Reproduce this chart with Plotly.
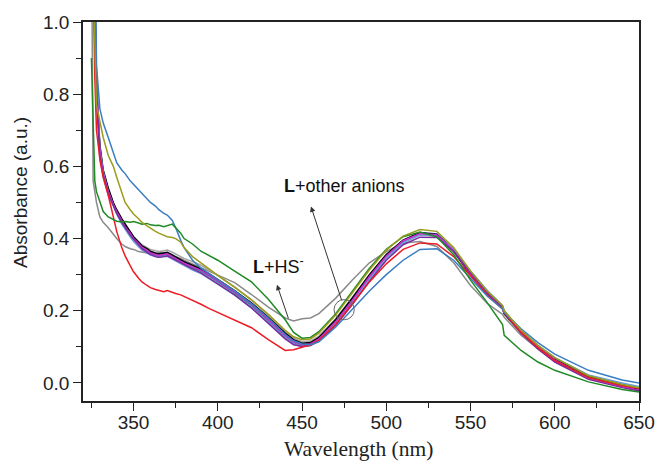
import plotly.graph_objects as go

# Wavelength grid (nm)
wavelength = [325, 326, 327, 328, 330, 332, 335, 338, 340, 343, 345, 348, 350, 353, 355,
              358, 360, 363, 365, 368, 370, 373, 375, 378, 380, 385, 390, 395, 400, 410,
              420, 430, 440, 445, 450, 455, 460, 470, 480, 490, 500, 510, 520, 530, 540,
              550, 560, 569, 570, 580, 590, 600, 620, 640, 650]

abs_hs = [1.3, 0.56, 0.53, 0.5, 0.46, 0.445, 0.43, 0.41, 0.4, 0.385, 0.378, 0.372, 0.37, 0.364, 0.362,
          0.36, 0.36, 0.358, 0.36, 0.362, 0.358, 0.352, 0.35, 0.345, 0.34, 0.33, 0.32, 0.31, 0.3, 0.278,
          0.245, 0.21, 0.18, 0.172, 0.178, 0.18, 0.192, 0.235, 0.286, 0.333, 0.364, 0.388, 0.392, 0.378, 0.333,
          0.27, 0.22, 0.19, 0.182, 0.132, 0.094, 0.06, 0.014, -0.009, -0.017]

abs_lightgray = [1.5, 1.25, 0.98, 0.78, 0.62, 0.57, 0.52, 0.49, 0.47, 0.45, 0.435, 0.418, 0.405, 0.392, 0.383,
                 0.375, 0.37, 0.366, 0.364, 0.366, 0.368, 0.362, 0.357, 0.35, 0.345, 0.336, 0.326, 0.313, 0.298, 0.266,
                 0.23, 0.188, 0.142, 0.124, 0.114, 0.116, 0.13, 0.178, 0.238, 0.3, 0.354, 0.393, 0.412, 0.406, 0.362,
                 0.3, 0.246, 0.206, 0.19, 0.138, 0.098, 0.064, 0.016, -0.008, -0.018]

abs_darkcyan = [1.65, 1.32, 1.02, 0.81, 0.645, 0.58, 0.53, 0.494, 0.472, 0.448, 0.433, 0.414, 0.4, 0.386, 0.375,
                0.366, 0.359, 0.354, 0.351, 0.354, 0.356, 0.349, 0.343, 0.336, 0.33, 0.319, 0.309, 0.295, 0.28, 0.249,
                0.214, 0.172, 0.128, 0.11, 0.104, 0.106, 0.12, 0.168, 0.228, 0.292, 0.35, 0.392, 0.415, 0.412, 0.368,
                0.304, 0.25, 0.211, 0.197, 0.144, 0.102, 0.067, 0.019, -0.004, -0.014]

abs_navy = [1.75, 1.38, 1.08, 0.83, 0.65, 0.585, 0.535, 0.497, 0.476, 0.452, 0.436, 0.418, 0.402, 0.388, 0.378,
            0.37, 0.362, 0.358, 0.356, 0.358, 0.36, 0.352, 0.347, 0.34, 0.334, 0.323, 0.313, 0.299, 0.284, 0.253,
            0.219, 0.178, 0.134, 0.116, 0.107, 0.109, 0.123, 0.172, 0.232, 0.297, 0.354, 0.395, 0.417, 0.413, 0.37,
            0.305, 0.25, 0.21, 0.196, 0.143, 0.101, 0.066, 0.017, -0.007, -0.017]

abs_black = [1.7, 1.35, 1.05, 0.82, 0.66, 0.59, 0.54, 0.5, 0.48, 0.455, 0.44, 0.42, 0.405, 0.39, 0.38,
             0.372, 0.365, 0.36, 0.358, 0.36, 0.362, 0.355, 0.35, 0.342, 0.336, 0.326, 0.316, 0.302, 0.287, 0.256,
             0.222, 0.182, 0.138, 0.12, 0.11, 0.112, 0.126, 0.176, 0.236, 0.3, 0.356, 0.396, 0.416, 0.41, 0.365,
             0.3, 0.246, 0.207, 0.192, 0.14, 0.1, 0.066, 0.018, -0.006, -0.016]

abs_lightblue = [1.9, 1.5, 1.15, 0.86, 0.65, 0.585, 0.53, 0.49, 0.468, 0.44, 0.425, 0.405, 0.392, 0.378, 0.368,
                 0.36, 0.354, 0.35, 0.348, 0.35, 0.351, 0.343, 0.338, 0.33, 0.324, 0.313, 0.303, 0.289, 0.274, 0.243,
                 0.208, 0.167, 0.125, 0.108, 0.102, 0.104, 0.118, 0.165, 0.224, 0.288, 0.345, 0.388, 0.41, 0.408, 0.37,
                 0.31, 0.256, 0.215, 0.2, 0.146, 0.104, 0.07, 0.022, 0.0, -0.01]

abs_magenta = [1.8, 1.4, 1.1, 0.84, 0.64, 0.58, 0.53, 0.495, 0.475, 0.45, 0.432, 0.415, 0.4, 0.386, 0.376,
               0.368, 0.36, 0.356, 0.354, 0.356, 0.358, 0.35, 0.344, 0.337, 0.332, 0.322, 0.312, 0.298, 0.283, 0.252,
               0.218, 0.176, 0.132, 0.114, 0.106, 0.108, 0.122, 0.17, 0.23, 0.295, 0.352, 0.394, 0.414, 0.41, 0.366,
               0.302, 0.248, 0.209, 0.195, 0.142, 0.1, 0.064, 0.014, -0.01, -0.02]

abs_purple = [1.6, 1.3, 1.0, 0.8, 0.63, 0.575, 0.525, 0.49, 0.47, 0.445, 0.43, 0.41, 0.398, 0.383, 0.372,
              0.362, 0.356, 0.35, 0.348, 0.35, 0.352, 0.345, 0.34, 0.332, 0.327, 0.316, 0.305, 0.29, 0.275, 0.244,
              0.208, 0.165, 0.122, 0.106, 0.101, 0.104, 0.116, 0.16, 0.218, 0.282, 0.34, 0.383, 0.404, 0.403, 0.365,
              0.305, 0.25, 0.21, 0.195, 0.138, 0.094, 0.058, 0.01, -0.013, -0.022]

abs_red = [1.4, 1.1, 0.85, 0.7, 0.62, 0.57, 0.52, 0.46, 0.42, 0.375, 0.352, 0.325, 0.308, 0.29, 0.28,
           0.27, 0.264, 0.259, 0.256, 0.253, 0.256, 0.25, 0.248, 0.244, 0.24, 0.23, 0.218, 0.206, 0.195, 0.175,
           0.153, 0.12, 0.09, 0.092, 0.1, 0.106, 0.118, 0.162, 0.22, 0.28, 0.33, 0.37, 0.388, 0.385, 0.35,
           0.295, 0.243, 0.205, 0.195, 0.14, 0.098, 0.062, 0.015, -0.008, -0.015]

abs_blue = [2.0, 1.6, 1.2, 0.88, 0.76, 0.72, 0.68, 0.64, 0.61, 0.59, 0.58, 0.56, 0.55, 0.535, 0.525,
            0.51, 0.5, 0.49, 0.48, 0.47, 0.465, 0.45, 0.43, 0.395, 0.375, 0.34, 0.318, 0.302, 0.286, 0.255,
            0.22, 0.18, 0.135, 0.117, 0.108, 0.106, 0.114, 0.155, 0.205, 0.255, 0.3, 0.34, 0.37, 0.372, 0.34,
            0.29, 0.24, 0.205, 0.195, 0.15, 0.112, 0.08, 0.035, 0.008, 0.0]

abs_green = [0.9, 0.7, 0.56, 0.53, 0.5, 0.475, 0.46, 0.452, 0.448, 0.446, 0.447, 0.445, 0.447, 0.443, 0.44,
             0.442, 0.438, 0.436, 0.437, 0.433, 0.435, 0.44, 0.43, 0.415, 0.4, 0.385, 0.365, 0.352, 0.34, 0.31,
             0.28, 0.232, 0.175, 0.14, 0.124, 0.126, 0.142, 0.192, 0.256, 0.318, 0.37, 0.405, 0.418, 0.405, 0.355,
             0.285, 0.222, 0.162, 0.132, 0.09, 0.058, 0.035, 0.003, -0.018, -0.025]

abs_olive = [1.5, 1.2, 0.95, 0.77, 0.72, 0.68, 0.63, 0.6, 0.57, 0.53, 0.5, 0.48, 0.468, 0.455, 0.445,
             0.435, 0.428, 0.42, 0.415, 0.41, 0.405, 0.403, 0.4, 0.39, 0.375, 0.35, 0.332, 0.316, 0.298, 0.265,
             0.23, 0.19, 0.146, 0.128, 0.12, 0.122, 0.138, 0.188, 0.25, 0.313, 0.368, 0.407, 0.425, 0.42, 0.375,
             0.31, 0.254, 0.214, 0.2, 0.146, 0.104, 0.07, 0.02, -0.004, -0.013]

series = [
    ("L+HS-", abs_hs, "#8a8a8a"),
    ("L+anion 1", abs_lightgray, "#a3a3a3"),
    ("L+anion 2", abs_darkcyan, "#2f8f9c"),
    ("L+anion 3", abs_navy, "#2b2b8f"),
    ("L", abs_black, "#000000"),
    ("L+anion 4", abs_lightblue, "#6a9fd6"),
    ("L+anion 5", abs_magenta, "#d02cd0"),
    ("L+anion 6", abs_purple, "#7b2a9e"),
    ("L+anion 7", abs_red, "#ec1c24"),
    ("L+anion 8", abs_blue, "#3a7dc2"),
    ("L+anion 9", abs_green, "#1f8a25"),
    ("L+anion 10", abs_olive, "#9c9c1c"),
]

fig = go.Figure()
for name, vals, color in series:
    fig.add_trace(go.Scatter(x=wavelength, y=vals, mode="lines", name=name,
                             line=dict(color=color, width=1.5), showlegend=False))

sans = "Liberation Sans, Arial, sans-serif"
serif = "Liberation Serif, Times New Roman, serif"

fig.update_layout(
    width=657, height=466,
    margin=dict(l=83, r=18, t=22, b=65, autoexpand=False),
    paper_bgcolor="white", plot_bgcolor="white",
    font=dict(family=sans, size=19, color="#222"),
    xaxis=dict(range=[320, 650], tick0=350, dtick=50, ticks="outside", ticklen=8,
               tickwidth=1.2, tickcolor="#222", showline=True, linecolor="#222", linewidth=1.5,
               mirror=True, showgrid=False, zeroline=False, automargin=False,
               ticklabelstandoff=-5,
               minor=dict(ticks="outside", ticklen=5, dtick=25, tick0=325, tickcolor="#222", tickwidth=1.2),
               tickfont=dict(family=sans, size=19)),
    yaxis=dict(range=[-0.05, 1.0], tick0=0, dtick=0.2, tickformat=".1f", ticks="outside", ticklen=8,
               tickwidth=1.2, tickcolor="#222", showline=True, linecolor="#222", linewidth=1.5,
               mirror=True, showgrid=False, zeroline=False, automargin=False,
               minor=dict(ticks="outside", ticklen=5, dtick=0.1, tick0=0.1, tickcolor="#222", tickwidth=1.2),
               tickfont=dict(family=sans, size=19)),
)

# axis titles
fig.add_annotation(text="Absorbance (a.u.)", xref="paper", yref="paper", x=-0.1115, y=0.549,
                   textangle=-90, showarrow=False, font=dict(family=sans, size=19, color="#222"),
                   xanchor="center", yanchor="middle")
fig.add_annotation(text="Wavelength (nm)", xref="paper", yref="paper", x=0.496, y=-0.127,
                   showarrow=False, font=dict(family=serif, size=21.5, color="#222"),
                   xanchor="center", yanchor="middle")

# labels with arrows
fig.add_annotation(text="<b>L</b>+other anions", x=475, y=0.547, xref="x", yref="y",
                   showarrow=False, font=dict(family=sans, size=18, color="#111"))
fig.add_annotation(x=455.3, y=0.489, ax=473.8, ay=0.225, xref="x", yref="y", axref="x", ayref="y",
                   text="", showarrow=True, arrowhead=2, arrowsize=1.1, arrowwidth=1, arrowcolor="#333")
fig.add_annotation(text="<b>L</b>+HS<sup>-</sup>", x=436.3, y=0.325, xref="x", yref="y",
                   showarrow=False, font=dict(family=sans, size=18, color="#111"))
fig.add_annotation(x=435.1, y=0.272, ax=442.2, ay=0.175, xref="x", yref="y", axref="x", ayref="y",
                   text="", showarrow=True, arrowhead=2, arrowsize=1.1, arrowwidth=1, arrowcolor="#333")

# isosbestic circle
fig.add_shape(type="circle", xref="x", yref="y", x0=469, x1=481, y0=0.175, y1=0.231,
              line=dict(color="#666", width=1))

fig.write_html("out.html", config={"displayModeBar": False},
               post_script="document.body.style.margin='0';document.body.style.padding='0';")
